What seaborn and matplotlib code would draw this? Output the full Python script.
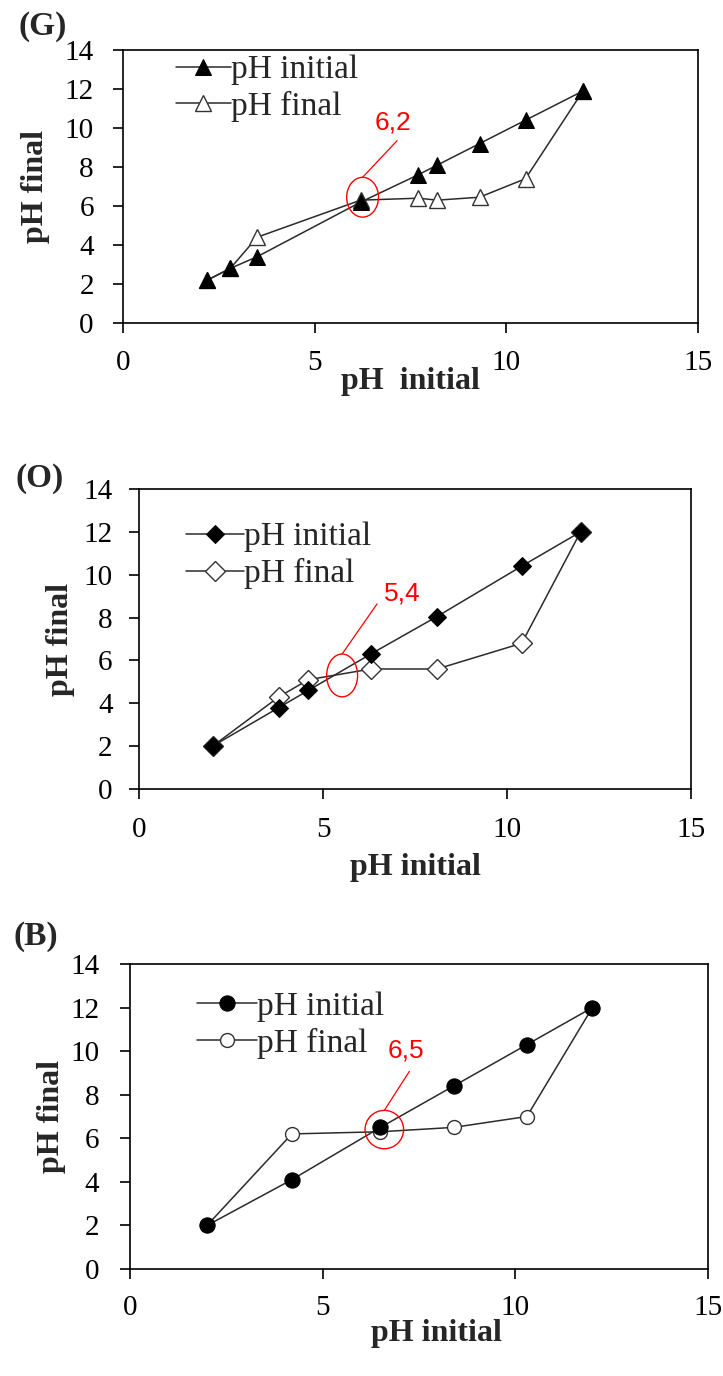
import matplotlib
matplotlib.use("Agg")
import matplotlib.pyplot as plt
from matplotlib.patches import Ellipse
import seaborn as sns

# ---------------- data ----------------
G_x = [2.2, 2.8, 3.5, 6.2, 7.7, 8.2, 9.3, 10.5, 12.0]
G_init = [2.2, 2.8, 3.4, 6.2, 7.6, 8.1, 9.2, 10.4, 11.9]
G_final = [2.2, 2.8, 4.4, 6.3, 6.4, 6.3, 6.45, 7.4, 11.9]

O_x = [2.0, 3.8, 4.6, 6.3, 8.1, 10.4, 12.0]
O_init = [2.0, 3.8, 4.6, 6.3, 8.05, 10.4, 12.0]
O_final = [2.0, 4.3, 5.1, 5.6, 5.6, 6.8, 12.0]

B_x = [2.0, 4.2, 6.5, 8.4, 10.3, 12.0]
B_init = [2.0, 4.1, 6.5, 8.4, 10.3, 12.0]
B_final = [2.0, 6.2, 6.3, 6.5, 7.0, 12.0]

panel_labels = ["(G)", "(O)", "(B)"]
series_labels = ["pH initial", "pH final"]
pzc_labels = ["6,2", "5,4", "6,5"]
x_ticks = [0, 5, 10, 15]
y_ticks = [0, 2, 4, 6, 8, 10, 12, 14]
x_titles = ["pH  initial", "pH initial", "pH initial"]
y_title = "pH final"

# annotation geometry (data units): ellipse centre, width, height; leader line end; text pos
ell_center = [(6.25, 6.45), (5.52, 5.3), (6.6, 6.4)]
ell_size = [(0.83, 2.04), (0.84, 2.0), (1.0, 1.76)]
lead_end = [(7.15, 9.35), (6.47, 8.64), (7.25, 9.07)]
text_pos = [(7.05, 10.3), (7.15, 9.12), (7.15, 10.05)]

# ---------------- style ----------------
sns.set_theme(style="white")
plt.rcParams["font.family"] = ["Liberation Serif", "DejaVu Serif"]

W, H = 723, 1376
fig = plt.figure(figsize=(W / 100, H / 100), dpi=100)

# axes boxes in pixels: left, right, top, bottom
boxes = [(123, 698, 50, 323), (139, 691, 489, 789), (130, 708, 964, 1269)]
markers = ["^", "D", "o"]
ms_fill = [12, 9, 11]
ms_open = [11, 10, 10]
legend_anchor = [(0.092, 0.982), (0.085, 0.89), (0.116, 0.91)]
handle_len = [1.65, 1.74, 1.8]
ypad = [14, 12, 15]
xpad = [12.5, 13.5, 12]
ylabel_x = [-0.153, -0.143, -0.135]
xlabel_y = [-0.215, -0.26, -0.21]
xlabel_x = [0.5, 0.5, 0.53]
plabel_pos = [(43, 26), (40, 478), (36, 936)]

data = [(G_x, G_init, G_final), (O_x, O_init, O_final), (B_x, B_init, B_final)]

line_col = "#2b2b2b"
for i, ((l, r, t, b), (xs, yi, yf)) in enumerate(zip(boxes, data)):
    ax = fig.add_axes([l / W, 1 - b / H, (r - l) / W, (b - t) / H])
    sns.lineplot(x=xs, y=yi, ax=ax, sort=False, estimator=None, color=line_col,
                 lw=1.1, marker=markers[i], markersize=ms_fill[i],
                 markerfacecolor="black", markeredgecolor="black",
                 label=series_labels[0], zorder=4)
    sns.lineplot(x=xs, y=yf, ax=ax, sort=False, estimator=None, color=line_col,
                 lw=1.1, marker=markers[i], markersize=ms_open[i],
                 markerfacecolor="white", markeredgecolor="#333333",
                 markeredgewidth=1.0, label=series_labels[1], zorder=3)

    ax.set_xlim(0, 15)
    ax.set_ylim(0, 14)
    ax.set_xticks(x_ticks)
    ax.set_yticks(y_ticks)
    ax.tick_params(axis="both", direction="out", length=7, width=1.2,
                   labelsize=21, colors="black", bottom=True, left=True)
    ax.tick_params(axis="y", pad=ypad[i])
    ax.tick_params(axis="x", pad=xpad[i])
    for sp in ax.spines.values():
        sp.set_visible(True)
        sp.set_color("black")
        sp.set_linewidth(1.2)

    ax.set_xlabel(x_titles[i], fontsize=23, fontweight="bold")
    ax.set_ylabel(y_title, fontsize=23, fontweight="bold")
    ax.yaxis.label.set_va("center")
    ax.xaxis.label.set_va("center")
    ax.yaxis.set_label_coords(ylabel_x[i], 0.5)
    ax.xaxis.set_label_coords(xlabel_x[i], xlabel_y[i])

    ax.legend(loc="upper left", bbox_to_anchor=legend_anchor[i], frameon=False,
              fontsize=24, handlelength=handle_len[i], handletextpad=0.0,
              labelspacing=0.17, borderaxespad=0, borderpad=0, numpoints=1)

    # point of zero charge annotation
    cx, cy = ell_center[i]
    ew, eh = ell_size[i]
    ax.add_patch(Ellipse((cx, cy), ew, eh, fill=False, edgecolor="red", lw=1.0, zorder=5))
    ex, ey = lead_end[i]
    ax.plot([cx, ex], [cy + eh / 2, ey], color="red", lw=0.9, zorder=5)
    tx, ty = text_pos[i]
    ax.text(tx, ty, pzc_labels[i], color="red", fontsize=19, ha="center", va="center",
            family=["Liberation Sans", "DejaVu Sans"])

    px, py = plabel_pos[i]
    fig.text(px / W, 1 - py / H, panel_labels[i], fontsize=24, fontweight="bold",
             ha="center", va="center")

fig.savefig("out.png", dpi=100, facecolor="white")
